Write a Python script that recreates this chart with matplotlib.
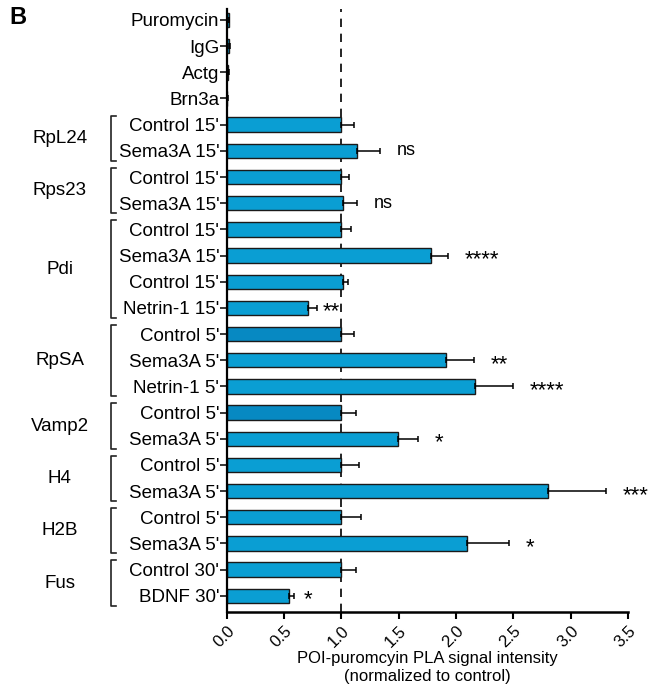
import numpy as np
import matplotlib
matplotlib.use("Agg")
import matplotlib.pyplot as plt
import matplotlib.transforms as mtransforms

plt.rcParams['font.family'] = ['Liberation Sans', 'DejaVu Sans']

# data
labels = ['Puromycin', 'IgG', 'Actg', 'Brn3a',
          "Control 15'", "Sema3A 15'",
          "Control 15'", "Sema3A 15'",
          "Control 15'", "Sema3A 15'", "Control 15'", "Netrin-1 15'",
          "Control 5'", "Sema3A 5'", "Netrin-1 5'",
          "Control 5'", "Sema3A 5'",
          "Control 5'", "Sema3A 5'",
          "Control 5'", "Sema3A 5'",
          "Control 30'", "BDNF 30'"]
values = [0.015, 0.02, 0.012, 0.006,
          1.0, 1.14,
          1.0, 1.01,
          1.0, 1.78, 1.01, 0.71,
          1.0, 1.915, 2.17,
          1.0, 1.49,
          1.0, 2.80,
          1.0, 2.10,
          1.0, 0.54]
errors = [0.008, 0.008, 0.008, 0.004,
          0.11, 0.20,
          0.07, 0.13,
          0.08, 0.15, 0.05, 0.08,
          0.11, 0.245, 0.33,
          0.13, 0.18,
          0.15, 0.51,
          0.17, 0.36,
          0.13, 0.05]
signif = ['', '', '', '',
          '', 'ns',
          '', 'ns',
          '', '****', '', '**',
          '', '**', '****',
          '', '*',
          '', '***',
          '', '*',
          '', '*']
group_names = ['RpL24', 'Rps23', 'Pdi', 'RpSA', 'Vamp2', 'H4', 'H2B', 'Fus']
group_sizes = [2, 2, 4, 3, 2, 2, 2, 2]
xticks = [0.0, 0.5, 1.0, 1.5, 2.0, 2.5, 3.0, 3.5]

blue = '#0a9ed3'
dark_blue = '#0789c2'
dark_rows = {12, 15}

fig = plt.figure(figsize=(6.48, 6.90), dpi=100)
ax = fig.add_axes([0.350, 0.113, 0.619, 0.874])

y = np.arange(len(labels))
colors = [dark_blue if i in dark_rows else blue for i in y]
ax.barh(y, values, height=0.55, color=colors, edgecolor='#1a1a1a', linewidth=1.0, zorder=2)
ax.errorbar(values, y, xerr=[np.zeros(len(values)), errors], fmt='none',
            ecolor='black', elinewidth=1.1, capsize=2.5, capthick=1.1, zorder=3)

ax.axvline(1.0, color='black', linestyle=(0, (5, 4)), linewidth=1.2, zorder=1)

# significance marks
for i, s in enumerate(signif):
    if not s:
        continue
    off = 12
    if labels[i].startswith('Netrin-1 15'):
        off = 4
    elif labels[i].startswith('BDNF'):
        off = 7
    if s.startswith('*'):
        ax.annotate(s, (values[i] + errors[i], i), xytext=(off, -3), textcoords='offset points',
                    ha='left', va='center', fontsize=16)
    else:
        ax.annotate(s, (values[i] + errors[i], i), xytext=(off, 0), textcoords='offset points',
                    ha='left', va='center', fontsize=13)

ax.set_ylim(len(labels) - 1 + 0.62, -0.42)
ax.set_xlim(0, 3.5)
ax.set_yticks(y)
ax.set_yticklabels(labels, fontsize=13.5)
ax.set_xticks(xticks)
ax.set_xticklabels([f'{t:.1f}' for t in xticks], rotation=45, ha='right',
                   rotation_mode='anchor', fontsize=12)
ax.tick_params(axis='y', length=5, width=1.1, pad=0.5)
ax.tick_params(axis='x', length=5, width=1.5, pad=3)
ax.set_xlabel('POI-puromcyin PLA signal intensity\n(normalized to control)', fontsize=12,
              labelpad=1, linespacing=1.25)

for side in ['top', 'right']:
    ax.spines[side].set_visible(False)
ax.spines['left'].set_linewidth(1.6)
ax.spines['bottom'].set_linewidth(1.8)

# group brackets
trans = mtransforms.blended_transform_factory(ax.transAxes, ax.transData)
start = 4
for name, n in zip(group_names, group_sizes):
    top = start - 0.35
    bot = start + n - 1 + 0.38
    xb, xt = -0.2875, -0.275
    ax.plot([xt, xb, xb, xt], [top, top, bot, bot], color='#222222', lw=1.2,
            transform=trans, clip_on=False)
    ax.text(-0.416, (top + bot) / 2, name, transform=trans, ha='center', va='center', fontsize=13.5)
    start += n

fig.text(0.015, 0.975, 'B', fontsize=17, fontweight='bold', ha='left', va='center')

fig.savefig('out.png', dpi=100)
